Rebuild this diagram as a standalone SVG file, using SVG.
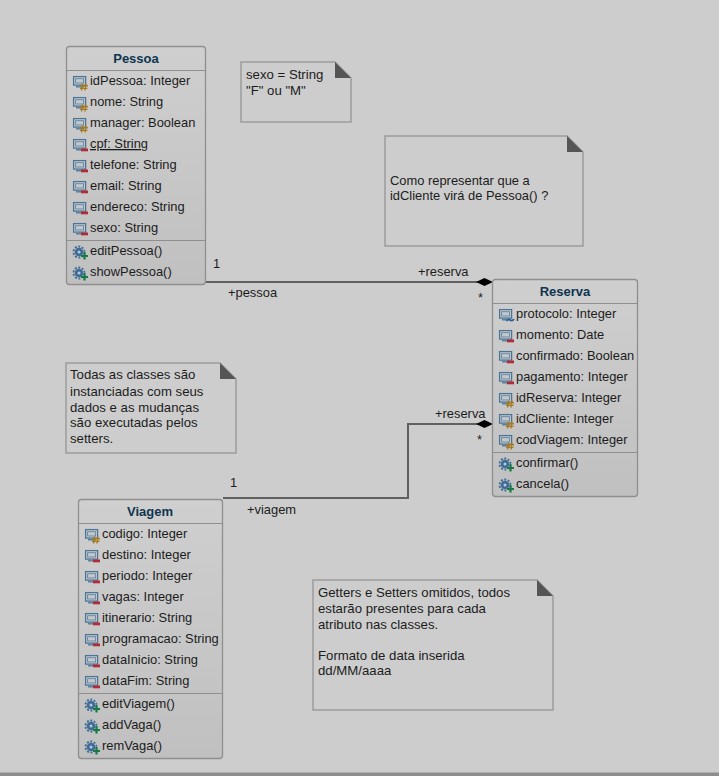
<svg xmlns="http://www.w3.org/2000/svg" xmlns:xlink="http://www.w3.org/1999/xlink" width="719" height="776" viewBox="0 0 719 776">
<style>
text{font-family:"Liberation Sans",Arial,sans-serif;font-size:12.9px;fill:#1c1c1c}
.t{font-weight:bold;font-size:13px;fill:#0e3550;text-anchor:middle}
.n{font-size:13.2px}
.nc{font-size:12.9px}
.box{fill:url(#g);stroke:#8f8f8f;stroke-width:1.3}
.sep{stroke:#8f8f8f;stroke-width:1.2}
.note{fill:#cdcdcd;stroke:#9c9c9c;stroke-width:1.5}
.fold{fill:#555}
.c{fill:none;stroke:#606060;stroke-width:2}
.d{fill:#000}
</style>
<defs>
<linearGradient id="g" x1="0" y1="0" x2="0" y2="1"><stop offset="0" stop-color="#cfcfcf"/><stop offset="1" stop-color="#c0c0c0"/></linearGradient>
<g id="mon"><rect x="0.6" y="0.6" width="12" height="8.500" fill="#cdcdcd" stroke="#4a7598" stroke-width="1.300"/><rect x="2.600" y="2.700" width="8" height="4.300" fill="#c4c8cc" stroke="#5f84a2" stroke-width="0.900"/><path d="M3 10.800H11" stroke="#4a7598" stroke-width="1.300"/></g>
<g id="priv"><use xlink:href="#mon"/><rect x="8" y="9.500" width="7" height="2.800" fill="#b22a35"/></g>
<g id="prot"><use xlink:href="#mon"/><path d="M9.500 7.500 8.500 14.500M13 7.500 12 14.500M7.500 9.800H15M7 12.400H14.500" stroke="#a87a1c" stroke-width="1.400" fill="none"/></g>
<g id="pack"><use xlink:href="#mon"/><path d="M7.500 12q1.800-2.500 3.800-1t3.700-1" stroke="#2a5f96" stroke-width="1.800" fill="none"/></g>
<g id="op"><circle cx="6" cy="6" r="4.300" fill="#3f6c96"/><circle cx="6" cy="6" r="5.500" fill="none" stroke="#3f6c96" stroke-width="1.800" stroke-dasharray="2 1.500"/><circle cx="6" cy="6" r="1.500" fill="#b9c8d6"/><path d="M11.500 6.500V13.500M8 10H15" stroke="#157a44" stroke-width="2.200"/></g>
</defs>
<rect width="719" height="776" fill="#cdcdcd"/>
<rect y="772.500" width="719" height="3.500" fill="#8d8d8d"/>

<g id="connectors">
<path class="c" d="M206 282H478"/>
<path class="d" d="M476 282 484.500 278 493 282 484.500 286Z"/>
<path class="c" d="M223 498H408V424H478"/>
<path class="d" d="M476 424 484.500 420 493 424 484.500 428Z"/>
<text x="213" y="268">1</text>
<text x="228" y="297">+pessoa</text>
<text x="418" y="276">+reserva</text>
<text x="478" y="302">*</text>
<text x="230" y="487">1</text>
<text x="247" y="514">+viagem</text>
<text x="435" y="418">+reserva</text>
<text x="477" y="444">*</text>
</g>

<g id="pessoa">
<rect class="box" x="66.500" y="46.500" width="139" height="238" rx="3"/>
<path class="sep" d="M67 70.500H205M67 240.500H205"/>
<text class="t" x="136" y="63">Pessoa</text>
<use xlink:href="#prot" x="73" y="76"/><text x="90" y="85">idPessoa: Integer</text>
<use xlink:href="#prot" x="73" y="97"/><text x="90" y="106">nome: String</text>
<use xlink:href="#prot" x="73" y="118"/><text x="90" y="127">manager: Boolean</text>
<use xlink:href="#priv" x="73" y="139"/><text x="90" y="148" text-decoration="underline">cpf: String</text>
<use xlink:href="#priv" x="73" y="160"/><text x="90" y="169">telefone: String</text>
<use xlink:href="#priv" x="73" y="181"/><text x="90" y="190">email: String</text>
<use xlink:href="#priv" x="73" y="202"/><text x="90" y="211">endereco: String</text>
<use xlink:href="#priv" x="73" y="223"/><text x="90" y="232">sexo: String</text>
<use xlink:href="#op" x="73" y="246"/><text x="90" y="255">editPessoa()</text>
<use xlink:href="#op" x="73" y="267"/><text x="90" y="276">showPessoa()</text>
</g>

<g id="reserva">
<rect class="box" x="492.500" y="279.500" width="145" height="217" rx="3"/>
<path class="sep" d="M493 303.500H637M493 452.500H637"/>
<text class="t" x="565" y="296">Reserva</text>
<use xlink:href="#pack" x="499" y="309"/><text x="516" y="318">protocolo: Integer</text>
<use xlink:href="#priv" x="499" y="330"/><text x="516" y="339">momento: Date</text>
<use xlink:href="#priv" x="499" y="351"/><text x="516" y="360">confirmado: Boolean</text>
<use xlink:href="#priv" x="499" y="372"/><text x="516" y="381">pagamento: Integer</text>
<use xlink:href="#prot" x="499" y="393"/><text x="516" y="402">idReserva: Integer</text>
<use xlink:href="#prot" x="499" y="414"/><text x="516" y="423">idCliente: Integer</text>
<use xlink:href="#prot" x="499" y="435"/><text x="516" y="444">codViagem: Integer</text>
<use xlink:href="#op" x="499" y="458"/><text x="516" y="467">confirmar()</text>
<use xlink:href="#op" x="499" y="479"/><text x="516" y="488">cancela()</text>
</g>

<g id="viagem">
<rect class="box" x="78.500" y="499.500" width="144" height="259" rx="3"/>
<path class="sep" d="M79 523.500H222M79 693.500H222"/>
<text class="t" x="150" y="516">Viagem</text>
<use xlink:href="#prot" x="85" y="529"/><text x="102" y="538">codigo: Integer</text>
<use xlink:href="#priv" x="85" y="550"/><text x="102" y="559">destino: Integer</text>
<use xlink:href="#priv" x="85" y="571"/><text x="102" y="580">periodo: Integer</text>
<use xlink:href="#priv" x="85" y="592"/><text x="102" y="601">vagas: Integer</text>
<use xlink:href="#priv" x="85" y="613"/><text x="102" y="622">itinerario: String</text>
<use xlink:href="#priv" x="85" y="634"/><text x="102" y="643">programacao: String</text>
<use xlink:href="#priv" x="85" y="655"/><text x="102" y="664">dataInicio: String</text>
<use xlink:href="#priv" x="85" y="676"/><text x="102" y="685">dataFim: String</text>
<use xlink:href="#op" x="85" y="699"/><text x="102" y="708">editViagem()</text>
<use xlink:href="#op" x="85" y="720"/><text x="102" y="729">addVaga()</text>
<use xlink:href="#op" x="85" y="741"/><text x="102" y="750">remVaga()</text>
</g>

<g id="note-sexo">
<path class="note" d="M241 62H335L351 78V122H241Z"/><path class="fold" d="M335 62 351 78H335Z"/>
<text class="n" x="246" y="79">sexo = String</text><text class="n" x="246" y="95">"F" ou "M"</text>
</g>
<g id="note-cliente">
<path class="note" d="M385 136H567L583 152V246H385Z"/><path class="fold" d="M567 136 583 152H567Z"/>
<text class="nc" x="390" y="185">Como representar que a</text><text class="nc" x="390" y="200">idCliente virá de Pessoa() ?</text>
</g>
<g id="note-classes">
<path class="note" d="M66 363H220L236 379V453H66Z"/><path class="fold" d="M220 363 236 379H220Z"/>
<text class="n" x="70" y="379">Todas as classes são</text><text class="n" x="70" y="396">instanciadas com seus</text><text class="n" x="70" y="412">dados e as mudanças</text><text class="n" x="70" y="427">são executadas pelos</text><text class="n" x="70" y="443">setters.</text>
</g>
<g id="note-getters">
<path class="note" d="M313 580H537L553 596V710H313Z"/><path class="fold" d="M537 580 553 596H537Z"/>
<text class="n" x="318" y="597">Getters e Setters omitidos, todos</text><text class="n" x="318" y="613">estarão presentes para cada</text><text class="n" x="318" y="629">atributo nas classes.</text><text class="n" x="318" y="660">Formato de data inserida</text><text class="n" x="318" y="675">dd/MM/aaaa</text>
</g>
</svg>
